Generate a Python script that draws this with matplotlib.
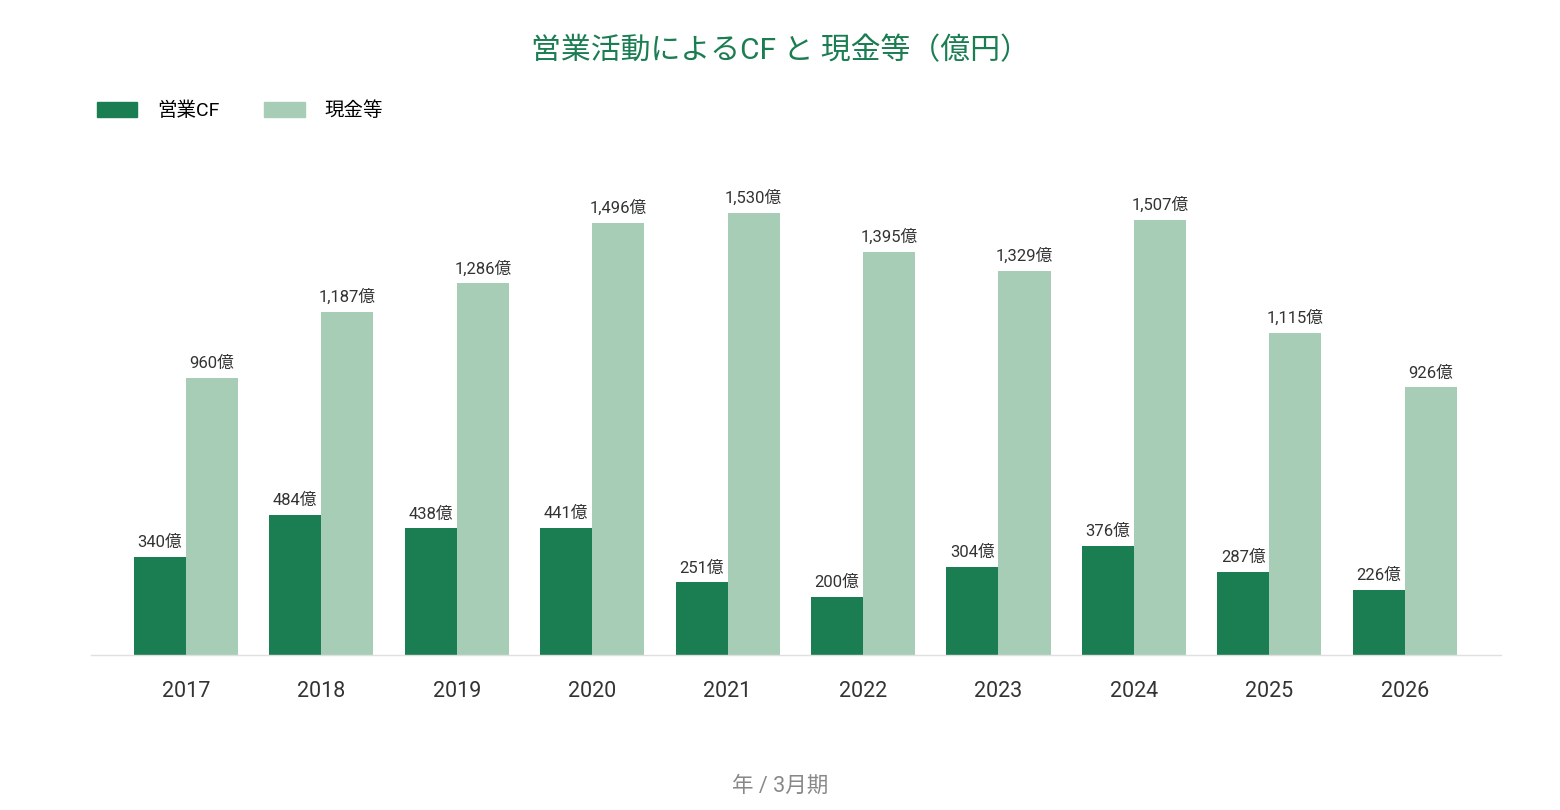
import numpy as np
import matplotlib.pyplot as plt
from matplotlib.patches import Patch

plt.rcParams['font.family'] = ['Roboto', 'Noto Sans CJK JP', 'DejaVu Sans']

# Data (億円)
years = ['2017', '2018', '2019', '2020', '2021', '2022', '2023', '2024', '2025', '2026']
op_cf = [340, 484, 438, 441, 251, 200, 304, 376, 287, 226]
cash = [960, 1187, 1286, 1496, 1530, 1395, 1329, 1507, 1115, 926]

dark = '#1b7d52'
light = '#a8cdb7'
text_col = '#333333'

fig = plt.figure(figsize=(15.6, 8.1), dpi=100)
# axes placed in pixel terms: left 91, right 1501, bottom 655, top 150
ax = fig.add_axes([91 / 1560, 1 - 655 / 810, 1410 / 1560, 505 / 810])

x = np.arange(len(years))
w = 0.384
b1 = ax.bar(x - w / 2, op_cf, w, color=dark)
b2 = ax.bar(x + w / 2, cash, w, color=light)

for rect, v in zip(b1, op_cf):
    ax.annotate(f'{v:,}億', (rect.get_x() + rect.get_width() / 2, v),
                xytext=(0, 5), textcoords='offset points',
                ha='center', va='bottom', fontsize=12, color=text_col)
for rect, v in zip(b2, cash):
    ax.annotate(f'{v:,}億', (rect.get_x() + rect.get_width() / 2, v),
                xytext=(0, 5), textcoords='offset points',
                ha='center', va='bottom', fontsize=12, color=text_col)

ax.set_xlim(-0.70, 9.71)
ax.set_ylim(0, 1748)
ax.set_xticks(x)
ax.set_xticklabels(years, fontsize=15.5, color=text_col)
ax.tick_params(axis='x', length=0, pad=18.5)
ax.set_yticks([])
for s in ['top', 'right', 'left']:
    ax.spines[s].set_visible(False)
ax.spines['bottom'].set_color('#e0e0e0')
ax.spines['bottom'].set_linewidth(1)

fig.text(0.5, 1 - 51 / 810, '営業活動によるCF と 現金等（億円）', ha='center', va='center',
         fontsize=21.5, color=dark)
fig.text(0.5, 1 - 786 / 810, '年 / 3月期', ha='center', va='center',
         fontsize=15.5, color='#888888')

handles = [Patch(color=dark, label='営業CF'), Patch(color=light, label='現金等')]
fig.legend(handles=handles, loc='center left', bbox_to_anchor=(79 / 1560, 1 - 111 / 810),
           ncol=2, frameon=False, fontsize=14, handlelength=2.1, handleheight=0.75,
           handletextpad=1.0, columnspacing=2.3)

fig.savefig('out.png', dpi=100)
